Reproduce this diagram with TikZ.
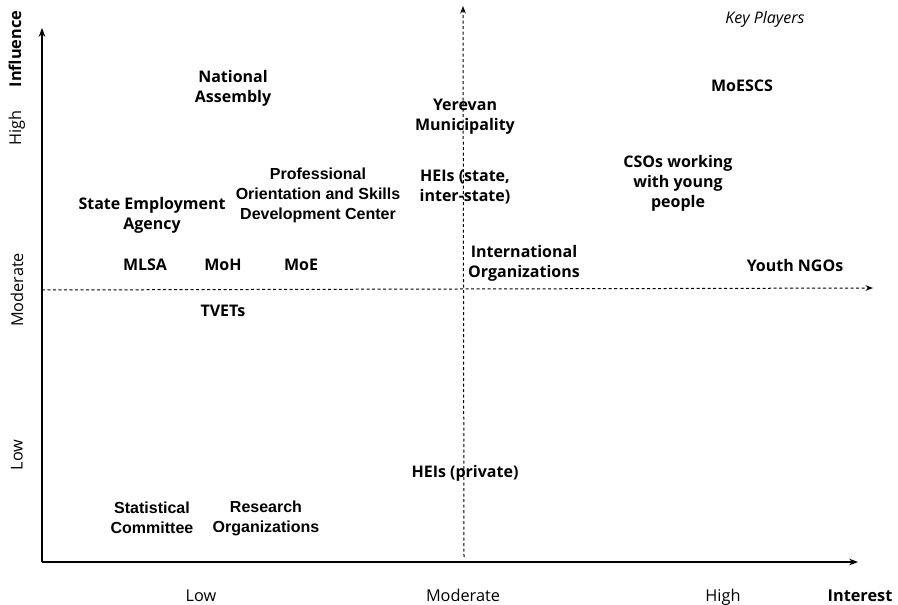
\documentclass[tikz,border=0pt]{standalone}
\usepackage{fontspec}
\setmainfont{Open Sans}
\newfontfamily\arialfont{Liberation Sans}
\usetikzlibrary{arrows.meta}

\tikzset{
  player/.style={font=\fontsize{16}{20}\selectfont\bfseries, align=center, inner sep=0pt},
  arialplayer/.style={player, font=\arialfont\fontsize{16}{20}\selectfont\bfseries},
  level/.style={font=\fontsize{16.3}{18}\selectfont, inner sep=0pt},
  axis/.style={->, line width=1.3pt},
  midline/.style={->, line width=1pt, dash pattern=on 3pt off 2.5pt},
}

\begin{document}
\begin{tikzpicture}[x=1pt, y=-1pt, >=Stealth]
    \useasboundingbox (0,0) rectangle (898,605);
    % axes and the two dividing lines
    \coordinate (origin) at (42,562);
    \coordinate (ytip) at (42,28);
    \coordinate (xtip) at (858,562);
    \coordinate (vbot) at (464,557);
    \coordinate (vtop) at (463,6);
    \coordinate (hleft) at (42,290);
    \coordinate (hright) at (873,288);
    \draw[axis] (origin) -- (ytip);
    \draw[axis] (origin) -- (xtip);
    \draw[midline] (vbot) -- (vtop);
    \draw[midline] (hleft) -- (hright);
    % level labels
    \node[level, rotate=90, font=\fontsize{16.3}{18}\selectfont\bfseries] (influence) at (15,49) {Influence};
    \foreach \lbl/\yy in {High/128, Moderate/290, Low/455}
        \node[level, rotate=90] (lev\lbl) at (17,\yy) {\lbl};
    \foreach \lbl/\xx in {Low/201, Moderate/463, High/723}
        \node[level, anchor=base] (int\lbl) at (\xx,601) {\lbl};
    \node[level, anchor=base, font=\fontsize{16.3}{18}\selectfont\bfseries] (interest) at (860,601) {Interest};
    \node[level, font=\fontsize{16}{18}\selectfont\itshape] (keyplayers) at (765,19) {Key Players};
    % stakeholders
    \node[player] (assembly) at (233,88) {National\\Assembly};
    \node[player] (yerevan) at (465,117) {Yerevan\\Municipality};
    \node[player] (moescs) at (742,86) {MoESCS};
    \node[player] (csos) at (678,183) {CSOs working\\with young\\people};
    \node[arialplayer] (posdc) at (318,195) {Professional\\Orientation and Skills\\Development Center};
    \node[player] (heistate) at (465,187) {HEIs (state,\\inter-state)};
    \node[player] (sea) at (152,215) {State Employment\\Agency};
    \node[player] (intorg) at (524,263) {International\\Organizations};
    \node[player] (mlsa) at (145,265) {MLSA};
    \node[player] (moh) at (223,265) {MoH};
    \node[player] (moe) at (301,265) {MoE};
    \node[player] (ngos) at (795,265) {Youth NGOs};
    \node[player] (tvets) at (223,311) {TVETs};
    \node[player] (heiprivate) at (465,473) {HEIs (private)};
    \node[arialplayer] (statcom) at (152,518) {Statistical\\Committee};
    \node[arialplayer] (research) at (266,518) {Research\\Organizations};
\end{tikzpicture}
\end{document}
